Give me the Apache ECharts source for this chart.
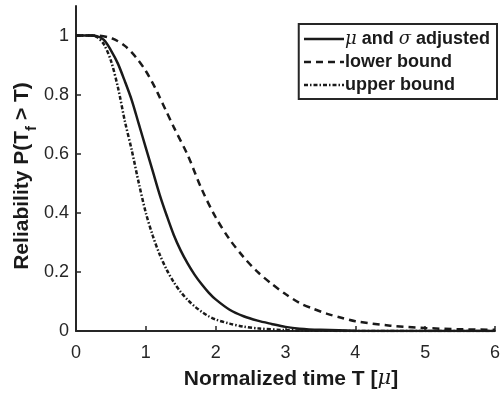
<!DOCTYPE html>
<html>
<head>
<meta charset="utf-8">
<script src="https://cdn.jsdelivr.net/npm/echarts@6/dist/echarts.min.js"></script>
<style>html,body{margin:0;padding:0;background:#fff}#c{width:503px;height:396px}</style>
</head>
<body>
<div id="c"></div>
<script>
// Data
const xTicks = [0, 1, 2, 3, 4, 5, 6];
const yTicks = [0, 0.2, 0.4, 0.6, 0.8, 1];
const seriesNames = ['adjusted', 'lower bound', 'upper bound'];

const adjustedX = [0, 0.2, 0.3, 0.4, 0.5, 0.6, 0.7, 0.8, 0.9, 1.0, 1.1, 1.2, 1.3, 1.4, 1.5, 1.6, 1.7, 1.8, 1.9, 2.0, 2.2, 2.4, 2.6, 2.8, 3.0, 3.2, 3.5, 4.0, 5.0, 6.0];
const adjustedY = [1, 1, 0.998, 0.985, 0.95, 0.905, 0.845, 0.78, 0.70, 0.62, 0.54, 0.46, 0.39, 0.325, 0.272, 0.228, 0.19, 0.158, 0.13, 0.107, 0.072, 0.05, 0.035, 0.024, 0.014, 0.008, 0.004, 0.001, 0, 0];

const lowerX = [0, 0.3, 0.52, 0.7, 0.86, 1.0, 1.14, 1.2, 1.28, 1.4, 1.6, 1.8, 2.0, 2.2, 2.4, 2.6, 2.8, 3.0, 3.2, 3.4, 3.6, 3.8, 4.0, 4.5, 5.0, 5.5, 6.0];
const lowerY = [1, 1, 0.99, 0.965, 0.926, 0.88, 0.82, 0.79, 0.75, 0.69, 0.595, 0.48, 0.385, 0.31, 0.25, 0.20, 0.16, 0.125, 0.095, 0.075, 0.058, 0.045, 0.033, 0.018, 0.01, 0.006, 0.004];

const upperX = [0, 0.2, 0.3, 0.4, 0.5, 0.6, 0.7, 0.8, 0.9, 1.0, 1.1, 1.2, 1.3, 1.4, 1.5, 1.6, 1.7, 1.8, 1.9, 2.0, 2.2, 2.4, 2.6, 3.0, 3.5, 4.0, 5.0, 6.0];
const upperY = [1, 1, 0.995, 0.97, 0.915, 0.825, 0.71, 0.61, 0.50, 0.40, 0.322, 0.258, 0.207, 0.165, 0.132, 0.105, 0.083, 0.065, 0.05, 0.039, 0.025, 0.015, 0.009, 0.003, 0.001, 0, 0, 0];

function pairs(xs, ys) { return xs.map((x, i) => [x, ys[i]]); }

const ink = '#1a1a1a';
const axisInk = '#262626';
const font = 'Liberation Sans, Arial, Helvetica, sans-serif';
const greek = 'DejaVu Serif, Liberation Serif, serif';

const chart = echarts.init(document.getElementById('c'), null, {renderer: 'canvas'});
chart.setOption({
  animation: false,
  backgroundColor: '#ffffff',
  grid: {left: 76, right: 0, top: 6, bottom: 65, containLabel: false},
  xAxis: {
    type: 'value', min: 0, max: 6, interval: 1,
    axisLine: {show: true, lineStyle: {color: axisInk, width: 2}},
    axisTick: {show: true, inside: true, length: 5, customValues: xTicks, lineStyle: {color: axisInk, width: 1.5}},
    axisLabel: {color: axisInk, fontSize: 18, fontFamily: font, margin: 13, customValues: xTicks},
    splitLine: {show: false}
  },
  yAxis: {
    type: 'value', min: 0, max: 1.1,
    axisLine: {show: true, lineStyle: {color: axisInk, width: 2}},
    axisTick: {show: true, inside: true, length: 5, customValues: yTicks, lineStyle: {color: axisInk, width: 1.5}},
    axisLabel: {color: axisInk, fontSize: 18, fontFamily: font, margin: 7, customValues: yTicks},
    splitLine: {show: false}
  },
  legend: {
    right: 6, top: 24,
    orient: 'vertical',
    backgroundColor: '#fff',
    borderColor: axisInk, borderWidth: 2, borderRadius: 0,
    padding: [6, 7, 5, 4],
    itemWidth: 40, itemHeight: 12, itemGap: 5,
    selectedMode: false,
    itemStyle: {opacity: 0},
    lineStyle: {width: 2.5, color: ink},
    textStyle: {
      color: ink, fontSize: 18, fontWeight: 'bold', fontFamily: font, padding: [0, 0, 0, -4],
      rich: {
        g: {fontSize: 18, fontStyle: 'italic', fontWeight: 'normal', fontFamily: greek, color: ink, lineHeight: 18},
        b: {fontSize: 18, fontWeight: 'bold', fontFamily: font, color: ink, lineHeight: 18}
      }
    },
    formatter: function (name) {
      if (name === 'adjusted') return '{g|μ}{b| and }{g|σ}{b| adjusted}';
      return '{b|' + name + '}';
    },
    data: seriesNames
  },
  graphic: [
    {
      type: 'text', x: 291, y: 379,
      style: {
        text: '{t|Normalized time T [}{g|μ}{t|]}',
        align: 'center', verticalAlign: 'middle',
        rich: {
          t: {fontSize: 21, fontWeight: 'bold', fontFamily: font, fill: ink},
          g: {fontSize: 21, fontStyle: 'italic', fontFamily: greek, fill: ink}
        }
      }
    },
    {
      type: 'text',
      x: 24, y: 176, rotation: Math.PI / 2,
      style: {
        text: '{t|Reliability P(T}{s|f}{t| > T)}',
        align: 'center', verticalAlign: 'middle',
        rich: {
          t: {fontSize: 21, fontWeight: 'bold', fontFamily: font, fill: ink, lineHeight: 24, verticalAlign: 'top'},
          s: {fontSize: 15, fontWeight: 'bold', fontFamily: font, fill: ink, lineHeight: 24, verticalAlign: 'top', padding: [12, 0, 0, 0]}
        }
      }
    }
  ],
  series: [
    {
      name: 'adjusted', type: 'line', data: pairs(adjustedX, adjustedY),
      smooth: 0.3, showSymbol: false, symbol: 'none',
      lineStyle: {color: ink, width: 2.5, type: 'solid'}, itemStyle: {color: ink}, z: 3
    },
    {
      name: 'lower bound', type: 'line', data: pairs(lowerX, lowerY),
      smooth: 0.3, showSymbol: false, symbol: 'none',
      lineStyle: {color: ink, width: 2.5, type: [7, 5]}, itemStyle: {color: ink}, z: 2
    },
    {
      name: 'upper bound', type: 'line', data: pairs(upperX, upperY),
      smooth: 0.3, showSymbol: false, symbol: 'none',
      lineStyle: {color: ink, width: 2.5, type: [4, 2, 1.5, 2]}, itemStyle: {color: ink}, z: 2
    }
  ]
});
</script>
</body>
</html>
